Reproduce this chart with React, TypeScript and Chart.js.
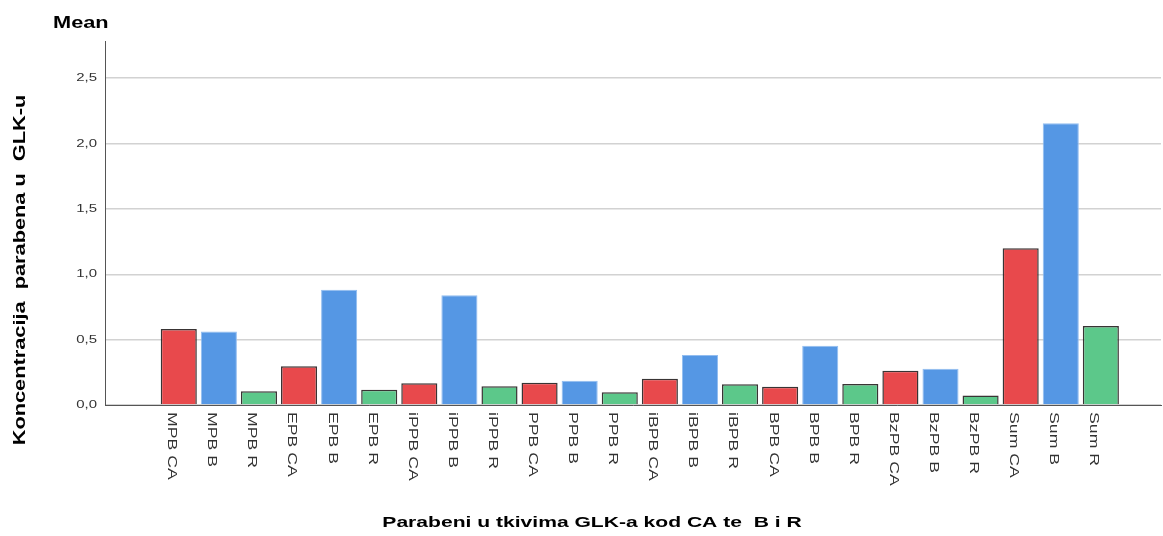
import React, { useEffect, useRef } from 'react';
import { Chart, registerables } from 'chart.js';

Chart.register(...registerables);

const categories = [
  'MPB CA', 'MPB B', 'MPB R',
  'EPB CA', 'EPB B', 'EPB R',
  'iPPB CA', 'iPPB B', 'iPPB R',
  'PPB CA', 'PPB B', 'PPB R',
  'iBPB CA', 'iBPB B', 'iBPB R',
  'BPB CA', 'BPB B', 'BPB R',
  'BzPB CA', 'BzPB B', 'BzPB R',
  'Sum CA', 'Sum B', 'Sum R',
];

const means = [
  0.581, 0.563, 0.105,
  0.296, 0.882, 0.117,
  0.166, 0.839, 0.143,
  0.170, 0.186, 0.097,
  0.201, 0.382, 0.158,
  0.140, 0.453, 0.160,
  0.262, 0.278, 0.072,
  1.199, 2.154, 0.604,
];

const yTickValues = [0, 0.5, 1.0, 1.5, 2.0, 2.5];
const yTickLabels = ['0,0', '0,5', '1,0', '1,5', '2,0', '2,5'];

const yTitle = 'Koncentracija  parabena u  GLK-u';
const xTitle = 'Parabeni u tkivima GLK-a kod CA te  B i R';
const topLabel = 'Mean';

const groupFill: Record<string, string> = { CA: '#E8494C', B: '#5597E4', R: '#5CC88A' };
const groupBorder: Record<string, string> = { CA: 'rgba(35,30,30,0.9)', B: '#92BDF0', R: 'rgba(35,30,30,0.9)' };
const groupBorderWidth: Record<string, number> = { CA: 1.5, B: 1, R: 1.5 };

const FONT = '"Liberation Sans", Arial, sans-serif';
const STRETCH = 1.36;

function drawText(
  ctx: CanvasRenderingContext2D,
  text: string,
  x: number,
  y: number,
  rot: number,
  font: string,
  color: string,
  align: CanvasTextAlign,
  baseline: CanvasTextBaseline,
) {
  ctx.save();
  ctx.translate(x, y);
  ctx.rotate(rot);
  ctx.scale(STRETCH, 1);
  ctx.font = font;
  ctx.fillStyle = color;
  ctx.textAlign = align;
  ctx.textBaseline = baseline;
  ctx.fillText(text, 0, 0);
  ctx.restore();
}

const textPlugin = {
  id: 'spssText',
  afterDraw(chart: any) {
    const ctx: CanvasRenderingContext2D = chart.ctx;
    const area = chart.chartArea;
    const xs = chart.scales.x;
    const ys = chart.scales.y;
    // y tick labels
    yTickValues.forEach((v, i) => {
      drawText(ctx, yTickLabels[i], area.left - 8, ys.getPixelForValue(v), 0,
        `11px ${FONT}`, '#333333', 'right', 'middle');
    });
    // x category labels (rotated clockwise)
    categories.forEach((c, i) => {
      drawText(ctx, c, xs.getPixelForValue(i) - 7, area.bottom + 7, Math.PI / 2,
        `13px ${FONT}`, '#333333', 'left', 'middle');
    });
    // axis titles
    drawText(ctx, yTitle, 21, chart.height / 2 + 2, -Math.PI / 2,
      `bold 16px ${FONT}`, '#000000', 'center', 'middle');
    drawText(ctx, xTitle, 592, 527, 0,
      `bold 15.5px ${FONT}`, '#000000', 'center', 'alphabetic');
    drawText(ctx, topLabel, 53, 28, 0,
      `bold 16px ${FONT}`, '#000000', 'left', 'alphabetic');
  },
};

export default function App() {
  const canvasRef = useRef<HTMLCanvasElement | null>(null);

  useEffect(() => {
    document.body.style.margin = '0';
    const canvas = canvasRef.current;
    if (!canvas) return;
    const groups = categories.map((c) => c.split(' ').pop() as string);
    const chart = new Chart(canvas, {
      type: 'bar',
      data: {
        datasets: [
          {
            data: categories.map((_, i) => ({ x: i, y: means[i] })),
            backgroundColor: groups.map((g) => groupFill[g]),
            borderColor: groups.map((g) => groupBorder[g]),
            borderWidth: groups.map((g) => groupBorderWidth[g]),
            barPercentage: 0.9,
            categoryPercentage: 1.0,
          },
        ],
      },
      options: {
        responsive: false,
        maintainAspectRatio: false,
        animation: false,
        devicePixelRatio: 1,
        layout: { padding: { left: 105, top: 41, right: 2, bottom: 131 } },
        plugins: {
          legend: { display: false },
          tooltip: { enabled: false },
          title: { display: false },
        },
        scales: {
          x: {
            type: 'linear',
            offset: false,
            min: -1.84,
            max: 24.5,
            ticks: { display: false, stepSize: 1 },
            grid: { display: false, drawTicks: false, offset: false },
            border: { display: true, color: '#555555', width: 1 },
          },
          y: {
            type: 'linear',
            min: 0,
            max: 2.784,
            ticks: { display: false, stepSize: 0.5, includeBounds: false },
            grid: { color: '#D2D2D2', lineWidth: 1.5, drawTicks: false },
            border: { display: true, color: '#555555', width: 1 },
          },
        },
      },
      plugins: [textPlugin],
    });
    return () => chart.destroy();
  }, []);

  return (
    <div style={{ width: 1163, height: 536, background: '#ffffff' }}>
      <canvas ref={canvasRef} width={1163} height={536} style={{ display: 'block' }} />
    </div>
  );
}
